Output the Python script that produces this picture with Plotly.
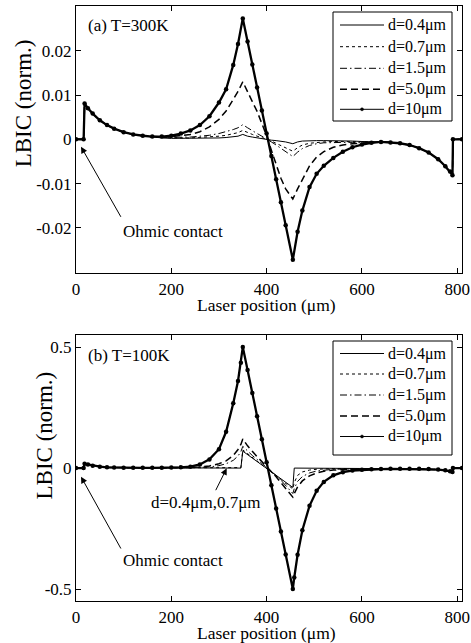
import plotly.graph_objects as go

# ---------------- data: panel (a) T=300K ----------------
xa = [0, 16, 18, 25, 35, 50, 65, 80, 100, 120, 140, 160, 180, 200, 220, 240, 260, 280, 300, 315,
      330, 340, 350, 360, 370, 380, 390, 400, 410, 420, 430, 440, 455, 465, 475, 490, 505, 520, 540, 560,
      580, 600, 620, 640, 660, 680, 700, 720, 740, 760, 775, 785, 790, 791, 810]

a_d04 = [0, 0, 0.0081, 0.0070, 0.0058, 0.0043, 0.0032, 0.0024, 0.0016, 0.0011, 0.0008, 0.0005, 0.0003, 0.0002, 0.0002, 0.0002, 0.0002, 0.0002, 0.0003, 0.0004,
         0.0005, 0.0007, 0.0011, 0.0007, 0.0005, 0.0003, 0.0002, 0.0000, -0.0002, -0.0003, -0.0004, -0.0006, -0.0010, -0.0006, -0.0004, -0.0003, -0.0003, -0.0003, -0.0003, -0.0003,
         -0.0004, -0.0005, -0.0005, -0.0006, -0.0007, -0.0009, -0.0013, -0.0020, -0.0030, -0.0045, -0.0061, -0.0073, -0.0081, 0, 0]
a_d07 = [0, 0, 0.0081, 0.0070, 0.0058, 0.0043, 0.0032, 0.0024, 0.0016, 0.0011, 0.0008, 0.0005, 0.0004, 0.0003, 0.0003, 0.0003, 0.0004, 0.0005, 0.0007, 0.0009,
         0.0012, 0.0015, 0.0020, 0.0015, 0.0011, 0.0007, 0.0004, 0.0000, -0.0004, -0.0009, -0.0014, -0.0019, -0.0027, -0.0019, -0.0013, -0.0009, -0.0007, -0.0006, -0.0005, -0.0005,
         -0.0006, -0.0006, -0.0006, -0.0006, -0.0007, -0.0009, -0.0013, -0.0020, -0.0030, -0.0045, -0.0061, -0.0073, -0.0081, 0, 0]
a_d15 = [0, 0, 0.0081, 0.0070, 0.0058, 0.0043, 0.0032, 0.0024, 0.0016, 0.0011, 0.0008, 0.0005, 0.0004, 0.0004, 0.0004, 0.0005, 0.0007, 0.0009, 0.0013, 0.0017,
         0.0022, 0.0026, 0.0033, 0.0026, 0.0019, 0.0013, 0.0007, 0.0001, -0.0006, -0.0013, -0.0021, -0.0029, -0.0039, -0.0029, -0.0021, -0.0014, -0.0010, -0.0008, -0.0007, -0.0007,
         -0.0007, -0.0008, -0.0007, -0.0006, -0.0007, -0.0009, -0.0013, -0.0020, -0.0030, -0.0045, -0.0061, -0.0073, -0.0081, 0, 0]
a_d50 = [0, 0, 0.0081, 0.0070, 0.0058, 0.0043, 0.0032, 0.0024, 0.0016, 0.0011, 0.0008, 0.0006, 0.0005, 0.0006, 0.0008, 0.0011, 0.0017, 0.0028, 0.0045, 0.0064,
         0.0090, 0.0108, 0.0130, 0.0106, 0.0085, 0.0063, 0.0037, 0.0008, -0.0025, -0.0058, -0.0088, -0.0112, -0.0135, -0.0112, -0.0090, -0.0060, -0.0040, -0.0028, -0.0018, -0.0013,
         -0.0010, -0.0009, -0.0007, -0.0006, -0.0007, -0.0009, -0.0013, -0.0020, -0.0030, -0.0045, -0.0061, -0.0073, -0.0081, 0, 0]
a_d10 = [0, 0, 0.0081, 0.0070, 0.0058, 0.0043, 0.0032, 0.0024, 0.0016, 0.0011, 0.0008, 0.0006, 0.0006, 0.0008, 0.0013, 0.0020, 0.0032, 0.0052, 0.0083, 0.0113,
         0.0168, 0.0215, 0.0273, 0.0221, 0.0169, 0.0117, 0.0065, 0.0013, -0.0038, -0.0090, -0.0142, -0.0194, -0.0272, -0.0209, -0.0161, -0.0108, -0.0078, -0.0060, -0.0042, -0.0028,
         -0.0018, -0.0012, -0.0008, -0.0006, -0.0007, -0.0009, -0.0013, -0.0020, -0.0030, -0.0045, -0.0061, -0.0073, -0.0081, 0, 0]

# ---------------- data: panel (b) T=100K ----------------
xb = [0, 16, 18, 25, 35, 50, 65, 80, 100, 120, 140, 160, 180, 200, 220, 240, 260, 280, 300, 315,
      330, 340, 346, 350, 360, 370, 380, 390, 400, 410, 420, 430, 440, 455, 458, 465, 475, 490, 505, 520,
      540, 560, 580, 600, 620, 640, 660, 680, 700, 720, 740, 760, 775, 785, 790, 791, 810]

b_d04 = [0, 0, 0.018, 0.015, 0.010, 0.006, 0.003, 0.002, 0.001, 0.001, 0.001, 0.001, 0.001, 0.001, 0, 0, 0, 0, 0, 0,
         0, 0, 0, 0.070, 0.056, 0.042, 0.028, 0.014, -0.001, -0.015, -0.029, -0.043, -0.057, -0.080, 0, 0, 0, 0, 0, 0,
         0, 0, 0, 0, 0, 0, -0.002, -0.002, -0.002, -0.003, -0.004, -0.006, -0.009, -0.013, -0.016, 0, 0]
b_d07 = [0, 0, 0.018, 0.015, 0.010, 0.006, 0.003, 0.002, 0.001, 0.001, 0.001, 0.001, 0.001, 0.001, 0, 0, 0, 0, 0, 0,
         0, 0, 0.002, 0.075, 0.060, 0.045, 0.030, 0.014, -0.001, -0.017, -0.032, -0.048, -0.063, -0.086, -0.060, -0.030, -0.016, -0.008, -0.005, -0.003,
         -0.002, -0.002, -0.002, -0.002, -0.002, -0.002, -0.002, -0.002, -0.002, -0.003, -0.004, -0.006, -0.009, -0.013, -0.016, 0, 0]
b_d15 = [0, 0, 0.018, 0.015, 0.010, 0.006, 0.003, 0.002, 0.001, 0.001, 0.001, 0.001, 0.001, 0.001, 0.001, 0.002, 0.003, 0.005, 0.010, 0.018,
         0.032, 0.050, 0.068, 0.090, 0.070, 0.052, 0.036, 0.020, 0.004, -0.013, -0.031, -0.050, -0.071, -0.105, -0.085, -0.055, -0.035, -0.020, -0.012, -0.008,
         -0.005, -0.004, -0.003, -0.003, -0.003, -0.003, -0.003, -0.003, -0.003, -0.003, -0.004, -0.006, -0.009, -0.013, -0.016, 0, 0]
b_d50 = [0, 0, 0.018, 0.015, 0.010, 0.006, 0.003, 0.002, 0.001, 0.001, 0.001, 0.001, 0.001, 0.002, 0.002, 0.003, 0.005, 0.009, 0.018, 0.030,
         0.052, 0.077, 0.098, 0.120, 0.092, 0.068, 0.047, 0.027, 0.007, -0.014, -0.036, -0.060, -0.085, -0.120, -0.105, -0.078, -0.053, -0.032, -0.020, -0.013,
         -0.008, -0.006, -0.005, -0.004, -0.004, -0.003, -0.003, -0.003, -0.003, -0.003, -0.004, -0.006, -0.009, -0.013, -0.016, 0, 0]
b_d10 = [0, 0, 0.018, 0.015, 0.010, 0.006, 0.003, 0.002, 0.001, 0.001, 0.001, 0.001, 0.001, 0.002, 0.003, 0.006, 0.015, 0.036, 0.078, 0.150,
         0.268, 0.360, 0.435, 0.500, 0.405, 0.310, 0.214, 0.119, 0.024, -0.071, -0.167, -0.262, -0.357, -0.500, -0.452, -0.358, -0.257, -0.156, -0.094, -0.057,
         -0.030, -0.017, -0.010, -0.007, -0.005, -0.004, -0.003, -0.003, -0.003, -0.003, -0.004, -0.006, -0.009, -0.013, -0.016, 0, 0]

names = ["d=0.4μm", "d=0.7μm", "d=1.5μm", "d=5.0μm", "d=10μm"]
xticks = [0, 200, 400, 600, 800]
ya_ticks = [-0.02, -0.01, 0, 0.01, 0.02]
ya_text = ["-0.02", "-0.01", "0", "0.01", "0.02"]
yb_ticks = [-0.5, 0, 0.5]
yb_text = ["-0.5", "0", "0.5"]

FONT = "Liberation Serif"
W, H = 471, 643

dashes = ["solid", "dot", "7px,3px,1.5px,3px", "7px,4px", "solid"]
widths = [1, 1, 1, 1.5, 2.3]

def style(i):
    st = dict(line=dict(color="black", width=widths[i], dash=dashes[i]), mode="lines")
    if i == 4:
        st["mode"] = "lines+markers"
        st["marker"] = dict(symbol="circle", size=4.5, color="black")
    return st

fig = go.Figure()
for i, ys in enumerate([a_d04, a_d07, a_d15, a_d50, a_d10]):
    fig.add_trace(go.Scatter(x=xa, y=ys, name=names[i], xaxis="x", yaxis="y", showlegend=False, **style(i)))
for i, ys in enumerate([b_d04, b_d07, b_d15, b_d50, b_d10]):
    fig.add_trace(go.Scatter(x=xb, y=ys, name=names[i], xaxis="x2", yaxis="y2", showlegend=False, **style(i)))

axcommon = dict(showline=True, linecolor="black", linewidth=1, mirror="allticks",
                ticks="inside", ticklen=5, tickcolor="black", tickwidth=1,
                showgrid=False, zeroline=False, automargin=False,
                tickfont=dict(family=FONT, size=17, color="black"))

xdom = [76 / W, 462 / W]
fig.update_layout(
    template="none",
    width=W, height=H,
    margin=dict(l=0, r=0, t=0, b=0, pad=0),
    paper_bgcolor="white", plot_bgcolor="white",
    font=dict(family=FONT, size=17, color="black"),
    showlegend=False,
    xaxis=dict(domain=xdom, anchor="y", range=[0, 810], tickvals=xticks, ticklabelstandoff=1, **axcommon),
    yaxis=dict(domain=[1 - 273 / H, 1 - 6 / H], anchor="x", range=[-0.0302, 0.0301],
               tickvals=ya_ticks, ticktext=ya_text, **axcommon),
    xaxis2=dict(domain=xdom, anchor="y2", range=[0, 810], tickvals=xticks, ticklabelstandoff=1, **axcommon),
    yaxis2=dict(domain=[1 - 600.7 / H, 1 - 335 / H], anchor="x2", range=[-0.548, 0.55],
                tickvals=yb_ticks, ticktext=yb_text, **axcommon),
)

def px(x):
    return x / W

def py(y):
    return 1 - y / H

def txt(x, y, s, size=17, angle=0, xanchor="center"):
    return dict(x=px(x), y=py(y), xref="paper", yref="paper", text=s, showarrow=False,
                textangle=angle, xanchor=xanchor, yanchor="middle",
                font=dict(family=FONT, size=size, color="black"))

def arrow(tipx, tipy, tailx, taily):
    return dict(x=px(tipx), y=py(tipy), xref="paper", yref="paper", text="",
                showarrow=True, ax=tailx - tipx, ay=taily - tipy, axref="pixel", ayref="pixel",
                arrowhead=2, arrowsize=1.3, arrowwidth=1, arrowcolor="black")

annotations = [
    txt(86, 25, "(a) T=300K", xanchor="left"),
    txt(86, 355, "(b) T=100K", xanchor="left"),
    txt(266.7, 305, "Laser position (μm)", size=17.5),
    txt(266.7, 632.5, "Laser position (μm)", size=17.5),
    txt(23.3, 103, "LBIC (norm.)", size=23, angle=-90),
    txt(43.5, 436, "LBIC (norm.)", size=23, angle=-90),
    txt(172.5, 231.7, "Ohmic contact"),
    txt(172.5, 560.7, "Ohmic contact"),
    txt(205.8, 502.7, "d=0.4μm,0.7μm"),
    arrow(81, 146.7, 121.7, 218.3),
    arrow(81, 476.7, 121.7, 550),
    arrow(226.7, 468.3, 215, 491.7),
]

# hand-drawn legends (box, line samples, labels)
shapes = []
legends = [
    dict(box=(333, 12, 452, 121), rows=[25, 46.7, 68.3, 89.3, 109.3]),
    dict(box=(333, 341, 452, 455), rows=[353.5, 374, 395, 416, 436.5]),
]
for lg in legends:
    x0, y0, x1, y1 = lg["box"]
    shapes.append(dict(type="rect", xref="paper", yref="paper", x0=px(x0), y0=py(y1), x1=px(x1), y1=py(y0),
                       line=dict(color="black", width=1), fillcolor="white", layer="above"))
    for i, ry in enumerate(lg["rows"]):
        shapes.append(dict(type="line", xref="paper", yref="paper", x0=px(340), x1=px(384), y0=py(ry), y1=py(ry),
                           line=dict(color="black", width=widths[i] if i < 4 else 1, dash=dashes[i]), layer="above"))
        if i == 4:
            shapes.append(dict(type="circle", xref="paper", yref="paper", x0=px(360.5), x1=px(363.5),
                               y0=py(ry + 1.5), y1=py(ry - 1.5), fillcolor="black",
                               line=dict(color="black", width=0.5), layer="above"))
        annotations.append(txt(386, ry, names[i], size=16, xanchor="left"))

fig.update_layout(annotations=annotations, shapes=shapes)

fig.write_html("out.html", config={"displayModeBar": False},
               post_script="document.body.style.margin='0';")
